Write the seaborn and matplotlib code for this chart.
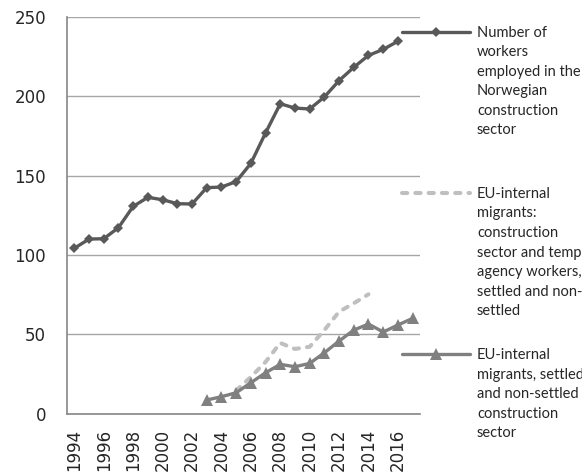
import matplotlib
matplotlib.use("Agg")
import matplotlib.pyplot as plt
from matplotlib.lines import Line2D
import seaborn as sns
import pandas as pd

# values (thousands of workers)
years_total = list(range(1994, 2017))
total_workers = [104.2, 110.0, 110.2, 117.2, 130.6, 136.3, 134.8, 132.3, 132.1,
                 142.4, 142.8, 146.2, 157.7, 176.9, 195.3, 192.6, 192.0, 199.6,
                 209.9, 218.3, 225.8, 229.6, 234.7]

years_temp = list(range(2005, 2015))
eu_with_temp = [14.5, 23.0, 32.5, 44.5, 40.7, 42.1, 52.6, 64.2, 69.5, 75.2]

years_eu = list(range(2003, 2018))
eu_construction = [8.5, 10.6, 13.1, 19.4, 25.7, 31.0, 29.5, 31.6, 38.3, 45.7,
                   52.6, 56.4, 51.4, 55.8, 60.0]

label_total = "Number of\nworkers\nemployed in the\nNorwegian\nconstruction\nsector"
label_temp = ("EU-internal\nmigrants:\nconstruction\nsector and temp\n"
              "agency workers,\nsettled and non-\nsettled")
label_eu = "EU-internal\nmigrants, settled\nand non-settled\nconstruction\nsector"

col_total = "#595959"
col_temp = "#bfbfbf"
col_eu = "#808080"
axis_col = "#868686"

sns.set_style("white")
plt.rcParams["font.family"] = ["DejaVu Sans"]

df_total = pd.DataFrame({"year": years_total, "value": total_workers})
df_temp = pd.DataFrame({"year": years_temp, "value": eu_with_temp})
df_eu = pd.DataFrame({"year": years_eu, "value": eu_construction})

fig = plt.figure(figsize=(5.82, 4.74), dpi=100)
ax = fig.add_axes([0.1151, 0.1276, 0.6065, 0.8365])

sns.lineplot(data=df_total, x="year", y="value", ax=ax, color=col_total,
             linewidth=2.4, marker="D", markersize=5.5, markeredgewidth=0)
sns.lineplot(data=df_temp, x="year", y="value", ax=ax, color=col_temp,
             linewidth=2.9, linestyle=(0, (1.3, 2.0)), dash_capstyle="round")
sns.lineplot(data=df_eu, x="year", y="value", ax=ax, color=col_eu,
             linewidth=2.4, marker="^", markersize=8, markeredgewidth=0)

ax.set_xlim(1993.5, 2017.5)
ax.set_ylim(0, 250)
ax.set_xlabel("")
ax.set_ylabel("")

ax.set_yticks(range(0, 251, 50))
ax.set_xticks(range(1994, 2017, 2))
ax.set_xticks([y - 0.5 for y in range(1994, 2019)], minor=True)
ax.tick_params(axis="x", which="major", length=0, pad=11, labelsize=12,
               labelrotation=90, labelcolor="#262626")
ax.tick_params(axis="x", which="minor", length=5, width=1, color=axis_col,
               direction="out")
ax.tick_params(axis="y", length=5, width=1, color=axis_col, pad=10,
               labelsize=12, labelcolor="#262626", direction="out")

ax.grid(axis="y", color="#a6a6a6", linewidth=1)
ax.set_axisbelow(True)
for side in ("top", "right"):
    ax.spines[side].set_visible(False)
for side in ("left", "bottom"):
    ax.spines[side].set_color(axis_col)
    ax.spines[side].set_linewidth(1.2)

# legend drawn like the spreadsheet one: handle level with first text line
W, H = 582.0, 474.0
entries = [
    (32, label_total, dict(color=col_total, lw=2.4, marker="D", markersize=5.5,
                           markeredgewidth=0)),
    (193, label_temp, dict(color=col_temp, lw=2.9, linestyle=(0, (1.3, 2.0)),
                           dash_capstyle="round")),
    (354, label_eu, dict(color=col_eu, lw=2.4, marker="^", markersize=8,
                         markeredgewidth=0)),
]
for ypix, text, style in entries:
    yf = 1 - ypix / H
    line = Line2D([402 / W, 470 / W], [yf, yf], transform=fig.transFigure,
                  markevery=[], **style)
    fig.add_artist(line)
    if "marker" in style:
        mk = Line2D([436 / W], [yf], transform=fig.transFigure, linestyle="none",
                    marker=style["marker"], markersize=style["markersize"],
                    color=style["color"], markeredgewidth=0)
        fig.add_artist(mk)
    fig.text(477 / W, 1 - (ypix - 6) / H, text, ha="left", va="top",
             fontsize=10.5, family=["Lato", "DejaVu Sans"], color="#262626",
             linespacing=1.5)

fig.savefig("out.png", dpi=100)
